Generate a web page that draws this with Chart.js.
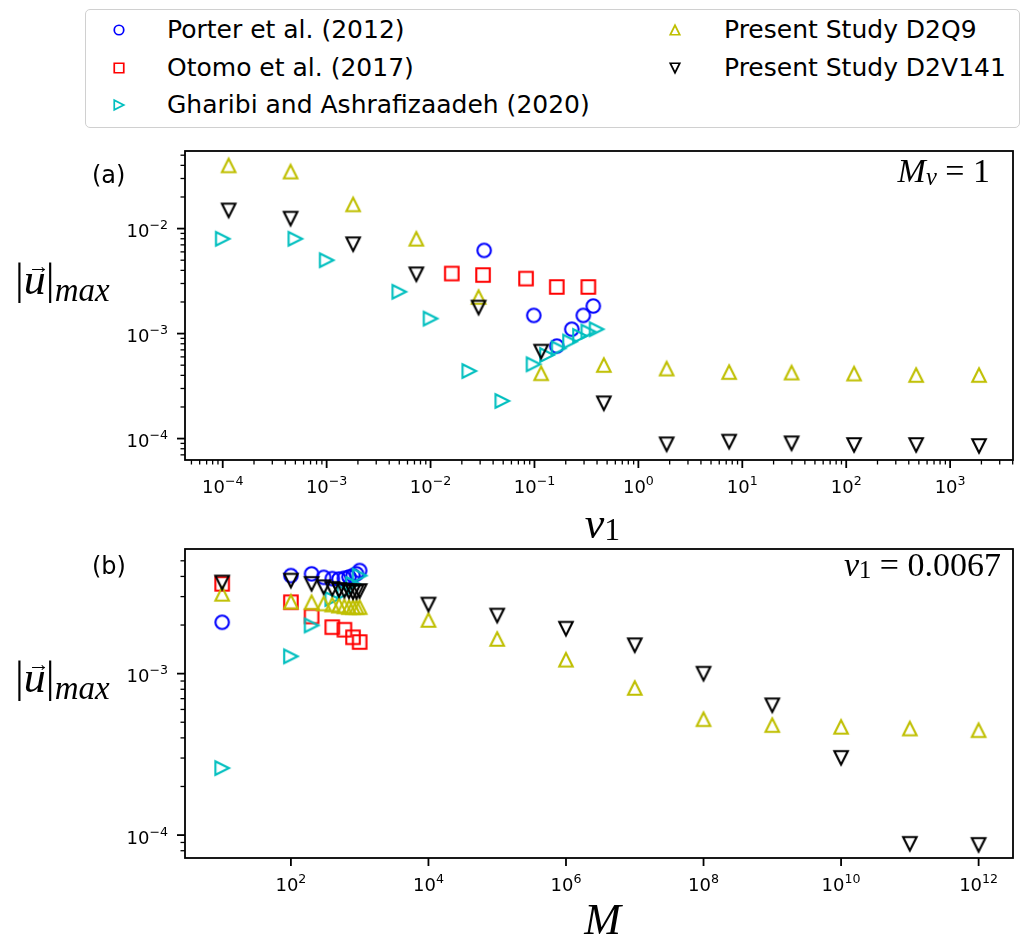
<!DOCTYPE html>
<html>
<head>
<meta charset="utf-8">
<script src="https://cdn.jsdelivr.net/npm/chart.js@4.4.1/dist/chart.umd.min.js"></script>
<style>
  body { margin: 0; background: #fff; }
  #fig { position: relative; width: 1022px; height: 939px; overflow: hidden; font-family: 'DejaVu Sans', sans-serif; color: #000; }
  canvas.panel { position: absolute; left: 0; }
  .legend { position: absolute; left: 85px; top: 9px; width: 933px; height: 117px; border: 1px solid #d0d0d0; border-radius: 5px; }
  .entry { position: absolute; height: 30px; line-height: 30px; font-size: 25px; white-space: nowrap; }
  .mk { position: absolute; }
  .math { position: absolute; font-family: 'Liberation Serif', 'DejaVu Serif', serif; white-space: nowrap; line-height: 1; }
  .math sub { font-size: 0.72em; line-height: 0; }
  .tag { position: absolute; font-size: 24px; line-height: 1; }
  .vec { position: relative; display: inline-block; }
  .arr { position: absolute; left: 4px; top: -3px; font-size: 22px; font-style: normal; line-height: 1; }
</style>
</head>
<body>
<div id="fig">
  <div class="legend"></div>
  <canvas id="chartA" class="panel" width="1022" height="380" style="top:130px"></canvas>
  <canvas id="chartB" class="panel" width="1022" height="419" style="top:520px"></canvas>

  <div class="tag" style="left:92px; top:163px">(a)</div>
  <div class="tag" style="left:92px; top:554px">(b)</div>

  <div class="math" style="right:32px; top:154px; font-size:34px"><i>M</i><sub style="vertical-align:-0.12em"><i>ν</i></sub> = 1</div>
  <div class="math" style="right:21px; top:548px; font-size:34px"><i>ν</i><sub style="vertical-align:-0.1em">1</sub> = 0.0067</div>

  <div class="math" style="left:15px; top:258px; font-size:44px">|<span class="vec"><i>u</i><span class="arr">→</span></span>|<sub style="vertical-align:-0.2em; font-size:0.75em"><i>max</i></sub></div>
  <div class="math" style="left:15px; top:656px; font-size:44px">|<span class="vec"><i>u</i><span class="arr">→</span></span>|<sub style="vertical-align:-0.2em; font-size:0.75em"><i>max</i></sub></div>

  <div class="math" style="left:185px; width:835px; text-align:center; top:502px; font-size:44px"><i>ν</i><sub style="vertical-align:-0.05em">1</sub></div>
  <div class="math" style="left:185px; width:835px; text-align:center; top:898px; font-size:44px"><i>M</i></div>
</div>

<script>
// (a) |u|max against nu1, M_nu = 1
const nuPorter = [0.0328, 0.0985, 0.164, 0.2285, 0.295, 0.368]
const uPorterA = [6.2e-3, 1.49e-3, 7.6e-4, 1.10e-3, 1.49e-3, 1.83e-3]
const nuOtomo = [0.016, 0.032, 0.083, 0.164, 0.33]
const uOtomoA = [3.73e-3, 3.61e-3, 3.34e-3, 2.78e-3, 2.78e-3]
const nuGharibi = [1e-4, 5e-4, 1e-3, 5e-3, 1e-2, 0.0236, 0.049, 0.098, 0.132, 0.171, 0.22, 0.274, 0.33, 0.396]
const uGharibiA = [8.0e-3, 8.0e-3, 5.0e-3, 2.5e-3, 1.39e-3, 4.4e-4, 2.28e-4, 5.1e-4, 6.25e-4, 7.24e-4, 8.4e-4, 9.5e-4, 1.045e-3, 1.1e-3]
const nuPresent = [1.14e-4, 4.5e-4, 1.8e-3, 7.3e-3, 0.029, 0.116, 0.465, 1.87, 7.47, 29.8, 119, 471, 1896]
const uD2Q9A = [0.040, 0.0349, 0.0170, 0.0080, 2.23e-3, 4.19e-4, 5.02e-4, 4.64e-4, 4.30e-4, 4.25e-4, 4.16e-4, 4.03e-4, 4.03e-4]
const uD2V141A = [0.0149, 0.01245, 0.0071, 3.67e-3, 1.77e-3, 6.74e-4, 2.17e-4, 8.83e-5, 9.36e-5, 9.02e-5, 8.69e-5, 8.69e-5, 8.5e-5]

// (b) |u|max against M, nu1 = 0.0067
const mPorter = [10, 100, 200, 300, 400, 500, 600, 700, 800, 900, 1000]
const uPorterB = [2.08e-3, 4.05e-3, 4.15e-3, 3.95e-3, 3.88e-3, 3.85e-3, 3.9e-3, 3.97e-3, 4.05e-3, 4.15e-3, 4.35e-3]
const mOtomo = [10, 100, 200, 400, 600, 800, 1000]
const uOtomoB = [3.6e-3, 2.77e-3, 2.26e-3, 1.94e-3, 1.87e-3, 1.68e-3, 1.57e-3]
const mGharibi = [10, 100, 200, 400, 600, 800, 1000]
const uGharibiB = [2.6e-4, 1.28e-3, 1.99e-3, 2.9e-3, 3.2e-3, 3.6e-3, 4.05e-3]
const mPresent = [10, 100, 200, 300, 400, 500, 600, 700, 800, 900, 1000, 1e4, 1e5, 1e6, 1e7, 1e8, 1e9, 1e10, 1e11, 1e12]
const uD2Q9B = [3.12e-3, 2.79e-3, 2.77e-3, 2.72e-3, 2.68e-3, 2.64e-3, 2.61e-3, 2.58e-3, 2.58e-3, 2.58e-3, 2.58e-3, 2.15e-3, 1.64e-3, 1.22e-3, 8.15e-4, 5.22e-4, 4.8e-4, 4.68e-4, 4.57e-4, 4.46e-4]
const uD2V141B = [3.67e-3, 3.77e-3, 3.6e-3, 3.43e-3, 3.35e-3, 3.3e-3, 3.27e-3, 3.24e-3, 3.2e-3, 3.2e-3, 3.25e-3, 2.68e-3, 2.29e-3, 1.90e-3, 1.50e-3, 1.0e-3, 6.37e-4, 3.01e-4, 8.83e-5, 8.7e-5]

// labelled decades
const nuTicks = [1e-4, 1e-3, 1e-2, 1e-1, 1, 10, 100, 1000]
const mTicks = [1e2, 1e4, 1e6, 1e8, 1e10, 1e12]
const uTicksA = [1e-4, 1e-3, 1e-2]
const uTicksB = [1e-4, 1e-3]

const series = [
    {label: 'Porter et al. (2012)', shape: 'o', color: '#0000ff', a: [nuPorter, uPorterA], b: [mPorter, uPorterB]},
    {label: 'Otomo et al. (2017)', shape: 's', color: '#ff0000', a: [nuOtomo, uOtomoA], b: [mOtomo, uOtomoB]},
    {label: 'Gharibi and Ashrafizaadeh (2020)', shape: '>', color: '#00bfbf', a: [nuGharibi, uGharibiA], b: [mGharibi, uGharibiB]},
    {label: 'Present Study D2Q9', shape: '^', color: '#bfbf00', a: [nuPresent, uD2Q9A], b: [mPresent, uD2Q9B]},
    {label: 'Present Study D2V141', shape: 'v', color: '#000000', a: [nuPresent, uD2V141A], b: [mPresent, uD2V141B]},
]

const drawMarker = (ctx, shape, cx, cy, m, color, lw) => {
    const h = m / 2
    ctx.strokeStyle = color
    ctx.lineWidth = lw
    ctx.lineJoin = 'miter'
    ctx.beginPath()
    if (shape === 'o') ctx.arc(cx, cy, h, 0, Math.PI * 2)
    else if (shape === 's') ctx.rect(cx - h, cy - h, m, m)
    else if (shape === '^') { ctx.moveTo(cx, cy - h); ctx.lineTo(cx - h, cy + h); ctx.lineTo(cx + h, cy + h); ctx.closePath() }
    else if (shape === 'v') { ctx.moveTo(cx, cy + h); ctx.lineTo(cx - h, cy - h); ctx.lineTo(cx + h, cy - h); ctx.closePath() }
    else if (shape === '>') { ctx.moveTo(cx + h, cy); ctx.lineTo(cx - h, cy - h); ctx.lineTo(cx - h, cy + h); ctx.closePath() }
    ctx.stroke()
}

const markerCanvas = (shape, color, m, lw) => {
    const size = 2 * Math.ceil(m / 2 + lw * 2)
    const c = document.createElement('canvas')
    c.width = c.height = size
    drawMarker(c.getContext('2d'), shape, size / 2, size / 2, m, color, lw)
    return c
}

// legend, two columns
const fig = document.getElementById('fig')
const legendRows = [30, 67.5, 105]
series.forEach((s, i) => {
    const col = i < 3 ? 0 : 1
    const y = legendRows[col ? i - 3 : i]
    const mx = col ? 675 : 119
    const tx = col ? 724 : 167
    const mk = markerCanvas(s.shape, s.color, 9.5, 1.7)
    mk.className = 'mk'
    mk.style.left = (mx - mk.width / 2) + 'px'
    mk.style.top = (y - mk.height / 2) + 'px'
    fig.appendChild(mk)
    const t = document.createElement('div')
    t.className = 'entry'
    t.style.left = tx + 'px'
    t.style.top = (y - 15) + 'px'
    t.textContent = s.label
    fig.appendChild(t)
})

const logTicks = (min, max, majors, withMinor) => {
    const ticks = []
    for (let e = Math.floor(Math.log10(min)); e <= Math.ceil(Math.log10(max)); e++) {
        for (let k = 1; k <= 9; k++) {
            const v = k * Math.pow(10, e)
            if (v < min || v > max) continue
            const major = k === 1 && majors.some(t => Math.abs(t / v - 1) < 1e-9)
            if (major || (withMinor && k > 1)) ticks.push({value: v, major})
        }
    }
    return ticks
}

const logAxis = (min, max, majors, withMinor, fit) => ({
    type: 'logarithmic',
    bounds: 'data',
    min, max,
    afterBuildTicks: s => { s.ticks = logTicks(min, max, majors, withMinor) },
    afterFit: fit,
    ticks: {autoSkip: false, maxRotation: 0, minRotation: 0, callback: () => ''},
    grid: {display: false},
    border: {display: false}
})

// "10" with a raised exponent, like 10^-3
const drawPow = (ctx, v, x, y, align) => {
    const e = Math.round(Math.log10(v))
    const exp = e < 0 ? '\u2212' + (-e) : String(e)
    ctx.font = '18px "DejaVu Sans"'
    const w1 = ctx.measureText('10').width
    ctx.font = '12.6px "DejaVu Sans"'
    const w2 = ctx.measureText(exp).width
    const x0 = align === 'right' ? x - w1 - w2 : x - (w1 + w2) / 2
    ctx.textAlign = 'left'
    ctx.textBaseline = 'alphabetic'
    ctx.font = '18px "DejaVu Sans"'
    ctx.fillText('10', x0, y)
    ctx.font = '12.6px "DejaVu Sans"'
    ctx.fillText(exp, x0 + w1, y - 8)
}

// axes frame, outward tick marks (minor ones shorter) and decade labels
const framePlugin = {
    id: 'frame',
    afterDraw(chart) {
        const {ctx, chartArea: a, scales} = chart
        ctx.save()
        ctx.strokeStyle = '#000'
        ctx.fillStyle = '#000'
        scales.x.ticks.forEach(t => {
            const px = scales.x.getPixelForValue(t.value)
            ctx.lineWidth = t.major ? 1.8 : 1.3
            ctx.beginPath()
            ctx.moveTo(px, a.bottom)
            ctx.lineTo(px, a.bottom + (t.major ? 8 : 4.5))
            ctx.stroke()
            if (t.major) drawPow(ctx, t.value, px, a.bottom + 33, 'center')
        })
        scales.y.ticks.forEach(t => {
            const py = scales.y.getPixelForValue(t.value)
            ctx.lineWidth = t.major ? 1.8 : 1.3
            ctx.beginPath()
            ctx.moveTo(a.left, py)
            ctx.lineTo(a.left - (t.major ? 8 : 4.5), py)
            ctx.stroke()
            if (t.major) drawPow(ctx, t.value, a.left - 17, py + 8.5, 'right')
        })
        ctx.lineWidth = 1.8
        ctx.strokeRect(a.left, a.top, a.right - a.left, a.bottom - a.top)
        ctx.restore()
    }
}

const makePanel = (id, key, xAxis, yAxis, padTop) => {
    new Chart(document.getElementById(id), {
        type: 'scatter',
        data: {
            datasets: series.map((s, i) => ({
                label: s.label,
                data: s[key][0].map((x, j) => ({x, y: s[key][1][j]})),
                pointStyle: markerCanvas(s.shape, s.color, 13.5, 2.1),
                pointRadius: 8,
                order: series.length - i
            }))
        },
        options: {
            responsive: false,
            animation: false,
            events: [],
            layout: {padding: {top: padTop, right: 2, left: 0, bottom: 0}},
            plugins: {legend: {display: false}, tooltip: {enabled: false}},
            scales: {x: xAxis, y: yAxis}
        },
        plugins: [framePlugin]
    })
}

makePanel('chartA', 'a',
    logAxis(Math.pow(10, -4.363), Math.pow(10, 3.605), nuTicks, true, s => { s.height = 50 }),
    logAxis(Math.pow(10, -4.204), Math.pow(10, -1.261), uTicksA, true, s => { s.width = 185 }),
    21)

makePanel('chartB', 'b',
    logAxis(Math.pow(10, 0.46), Math.pow(10, 12.5), mTicks, false, s => { s.height = 81 }),
    logAxis(Math.pow(10, -4.142), Math.pow(10, -2.228), uTicksB, true, s => { s.width = 185 }),
    29)
</script>
</body>
</html>
